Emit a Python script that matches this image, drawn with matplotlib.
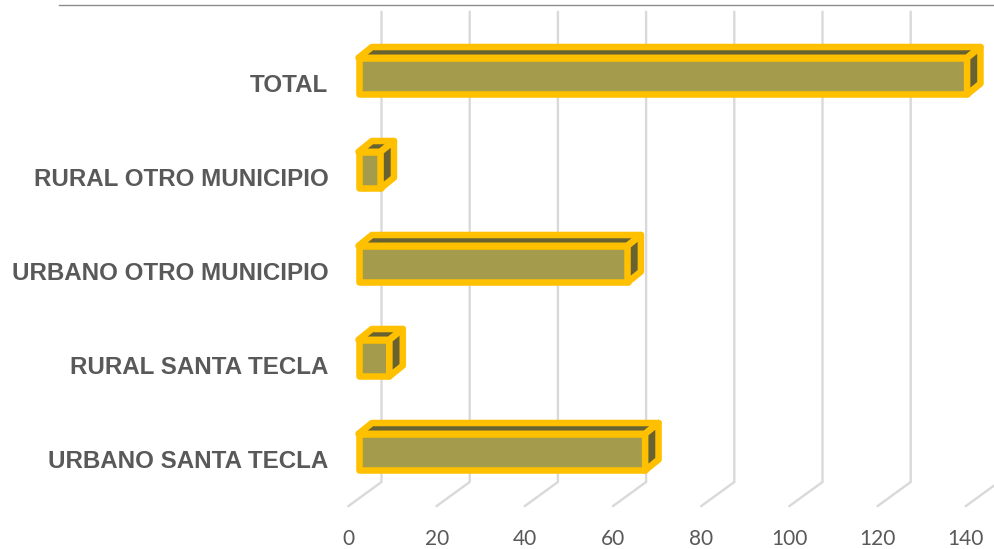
#!/usr/bin/env python3
"""Excel style 3D horizontal bars, drawn as flat polygons on an oblique floor."""

import matplotlib

matplotlib.use("Agg")
import matplotlib.pyplot as plt
from matplotlib.lines import Line2D
from matplotlib.patches import Polygon

CATEGORIES = [
    "URBANO SANTA TECLA",
    "RURAL SANTA TECLA",
    "URBANO OTRO MUNICIPIO",
    "RURAL OTRO MUNICIPIO",
    "TOTAL",
]
VALUES = [65, 7, 61, 5, 138]
X_TICKS = [0, 20, 40, 60, 80, 100, 120, 140]

WIDTH, HEIGHT = 994, 549
LEFT, RIGHT = 348.5, 965.9
BOTTOM, TOP = 506, 36

GOLD = "#FFC000"
FACE = "#A59B4D"
DARK = "#686233"
GRID = "#D9D9D9"
TEXT = "#595959"

figure = plt.figure(figsize=(WIDTH / 100, HEIGHT / 100), dpi=100)
axis = figure.add_axes(
    [LEFT / WIDTH, 1 - BOTTOM / HEIGHT, (RIGHT - LEFT) / WIDTH, (BOTTOM - TOP) / HEIGHT]
)
axis.set_xlim(0, 140)
axis.set_ylim(-0.5, 4.5)

x_per_px = 140 / (RIGHT - LEFT)
y_per_px = 5 / (BOTTOM - TOP)


def shift(x, y, dx_px, dy_px):
    return (x + dx_px * x_per_px, y + dy_px * y_per_px)


# back wall and floor gridlines
for tick in X_TICKS:
    floor = shift(tick, -0.5, 33, 24)
    top = shift(tick, 4.5, 33, 24)
    axis.plot(
        [tick, floor[0], top[0]],
        [-0.5, floor[1], top[1]],
        color=GRID,
        linewidth=1.7,
        clip_on=False,
        solid_joinstyle="miter",
        zorder=1,
    )

half = 18.3 * y_per_px
for position, value in enumerate(VALUES):
    # front corners sit part way into the floor, back corners further in
    low, high = position - half, position + half
    front = [(0, low), (value, low), (value, high), (0, high)]
    front = [shift(x, y, 10.0, 6.9) for x, y in front]
    back = [shift(x, y, 13.4, 10.8) for x, y in front]
    faces = [
        (front, FACE),
        ([front[3], front[2], back[2], back[3]], DARK),
        ([front[1], back[1], back[2], front[2]], DARK),
    ]
    for points, color in faces:
        axis.add_patch(
            Polygon(
                points,
                closed=True,
                facecolor=color,
                edgecolor=GOLD,
                linewidth=4.7,
                joinstyle="round",
                clip_on=False,
                zorder=3,
            )
        )

axis.set_xticks(X_TICKS, [str(t) for t in X_TICKS], family="Lato", fontsize=15, color=TEXT)
axis.set_yticks(
    range(len(CATEGORIES)),
    CATEGORIES,
    family="Liberation Sans",
    fontweight="bold",
    fontsize=17.4,
    color=TEXT,
)
axis.tick_params(axis="x", length=0, pad=16.5)
axis.tick_params(axis="y", length=0, pad=14.5)
for spine in axis.spines.values():
    spine.set_visible(False)
axis.patch.set_visible(False)

# thin rule along the top of the picture
figure.add_artist(
    Line2D([59 / WIDTH, 1], [1 - 4.5 / HEIGHT] * 2, color="#8C8C8C", linewidth=1.0)
)

figure.savefig("out.png", dpi=100)
